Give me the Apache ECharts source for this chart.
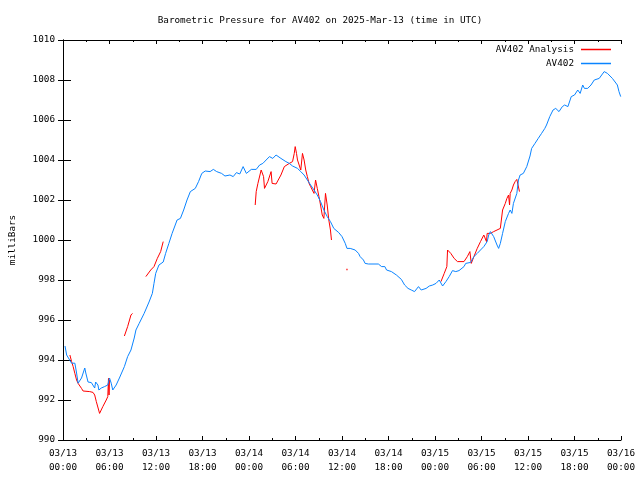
<!DOCTYPE html>
<html>
<head>
<meta charset="utf-8">
<script src="https://cdn.jsdelivr.net/npm/echarts@6/dist/echarts.min.js"></script>
<style>html,body{margin:0;padding:0;background:#fff}#c{width:640px;height:480px}</style>
</head>
<body>
<div id="c"></div>
<script>
// Hours since 2025-03-13 00:00 UTC
var xTickLabels = ['03/13\n00:00','03/13\n06:00','03/13\n12:00','03/13\n18:00','03/14\n00:00','03/14\n06:00','03/14\n12:00','03/14\n18:00','03/15\n00:00','03/15\n06:00','03/15\n12:00','03/15\n18:00','03/16\n00:00'];
var yTicks = [990,992,994,996,998,1000,1002,1004,1006,1008,1010];

var av402Hours = [0.26,0.47,1.11,1.53,1.75,1.95,2.39,2.81,2.94,3.23,3.66,3.87,4.09,4.21,4.51,4.63,4.94,5.36,5.78,6.0,6.22,6.42,6.86,7.28,7.92,8.34,8.77,9.19,9.41,9.83,10.47,11.1,11.53,11.74,11.96,12.38,12.6,12.93,13.24,13.66,14.08,14.72,15.15,15.57,16.0,16.43,17.07,17.49,17.91,18.35,18.98,19.4,19.83,20.46,20.9,21.54,21.96,22.38,22.81,23.24,23.45,23.66,24.3,24.93,25.37,25.79,26.21,26.64,27.07,27.49,28.12,28.76,29.2,29.62,30.26,30.68,31.11,31.53,31.95,32.39,32.81,33.23,33.66,34.09,34.51,34.94,35.58,36.0,36.42,36.64,37.06,37.28,37.7,37.92,38.13,38.34,38.55,38.77,38.98,39.41,40.69,41.11,41.53,41.75,42.38,43.02,43.66,44.08,44.52,44.94,45.36,45.58,45.87,46.22,46.43,46.85,47.27,47.71,48.13,48.55,48.98,49.41,49.83,50.26,50.68,51.1,51.32,51.74,51.96,52.6,53.02,53.45,53.87,54.3,54.73,54.93,55.15,55.57,56.0,56.21,56.43,56.72,57.07,57.49,57.7,57.92,58.12,58.56,58.77,58.98,59.4,59.84,60.26,60.47,60.9,61.32,61.75,62.17,62.39,62.81,63.23,63.58,64.0,64.43,64.73,65.15,65.58,66.0,66.42,66.73,67.06,67.28,67.7,68.13,68.55,69.19,69.83,70.25,70.89,71.53,71.74,71.96];
var av402Values = [994.7,994.25,993.84,993.84,993.35,992.84,993.1,993.6,993.35,992.9,992.87,992.87,992.6,992.9,992.75,992.5,992.6,992.67,992.75,993.1,992.84,992.5,992.75,993.1,993.67,994.17,994.5,995.1,995.5,995.83,996.33,996.9,997.33,997.83,998.33,998.75,998.83,998.9,999.33,999.83,1000.33,1001.0,1001.08,1001.5,1002.0,1002.42,1002.58,1002.92,1003.33,1003.45,1003.42,1003.53,1003.42,1003.33,1003.2,1003.25,1003.17,1003.37,1003.3,1003.67,1003.5,1003.33,1003.53,1003.53,1003.75,1003.83,1004.0,1004.17,1004.08,1004.25,1004.08,1003.92,1003.83,1003.7,1003.58,1003.42,1003.25,1003.0,1002.75,1002.5,1002.25,1001.92,1001.5,1001.17,1000.92,1000.58,1000.37,1000.17,999.83,999.58,999.58,999.67,999.5,999.58,999.33,999.17,999.25,999.0,998.83,998.8,998.8,998.67,998.67,998.5,998.42,998.25,998.03,997.75,997.58,997.5,997.42,997.5,997.67,997.5,997.42,997.58,997.7,997.75,997.83,998.0,997.7,997.92,998.17,998.47,998.42,998.47,998.5,998.67,998.83,998.88,999.17,999.33,999.5,999.67,999.92,1000.25,1000.42,1000.17,999.75,999.58,999.83,1000.33,1000.92,1001.33,1001.5,1001.33,1001.83,1002.33,1003.0,1003.25,1003.33,1003.67,1004.2,1004.58,1004.83,1005.08,1005.33,1005.58,1005.75,1006.17,1006.5,1006.58,1006.42,1006.67,1006.75,1006.67,1007.17,1007.25,1007.5,1007.33,1007.75,1007.58,1007.58,1007.75,1008.0,1008.08,1008.42,1008.33,1008.08,1007.75,1007.42,1007.17];

// Analysis: null values separate the segments
var analysisHours = [0.89,1.11,1.31,1.53,1.75,1.95,2.39,2.59,3.45,3.87,4.09,4.3,4.72,5.14,5.58,5.78,5.87,5.94,6.0,
  7.0,
  7.92,8.34,8.77,8.97,
  9.8,
  10.69,11.32,11.74,12.17,12.6,12.93,
  18.0,
  24.8,24.93,25.15,25.57,25.7,25.88,26.0,26.43,26.64,26.85,26.98,27.49,27.7,28.12,28.56,28.76,29.2,29.62,29.84,29.96,30.13,30.26,30.47,30.68,30.9,31.11,31.32,31.53,31.75,31.95,32.17,32.39,32.59,32.81,33.03,33.23,33.45,33.66,33.87,34.09,34.3,34.51,34.64,
  40.0,
  48.77,49.19,49.53,49.62,50.04,50.47,50.9,51.74,52.17,52.5,52.68,53.02,53.45,53.87,54.3,54.51,54.64,54.73,55.15,55.57,56.0,56.43,56.64,56.72,56.85,57.07,57.28,57.49,57.62,57.7,57.92,58.12,58.34,58.56,58.77,58.9];
var analysisValues = [994.25,993.92,993.67,993.33,993.0,992.83,992.58,992.45,992.42,992.38,992.25,991.92,991.33,991.67,992.0,992.17,993.08,992.25,993.0,
  null,
  995.2,995.67,996.25,996.33,
  null,
  998.17,998.5,998.67,999.08,999.42,999.92,
  null,
  1001.75,1002.42,1002.83,1003.5,1003.58,1003.17,1002.58,1002.92,1003.0,1003.42,1002.83,1002.8,1002.83,1003.25,1003.67,1003.75,1003.83,1003.92,1004.33,1004.67,1004.33,1004.0,1003.75,1003.5,1004.33,1004.0,1003.5,1003.17,1002.83,1002.67,1002.58,1002.33,1003.0,1002.58,1002.17,1001.75,1001.25,1001.08,1002.33,1001.75,1001.0,1000.5,1000.0,
  null,
  997.92,998.33,998.67,999.5,999.33,999.08,998.92,998.92,999.17,999.42,998.83,999.17,999.58,999.92,1000.25,1000.33,999.92,1000.33,1000.33,1000.42,1000.5,1000.58,1000.67,1001.5,1001.5,1001.83,1002.08,1002.25,1001.75,1002.33,1002.5,1002.75,1002.92,1003.03,1003.08,1002.42];
// Isolated single analysis sample
var analysisDotHours = [36.64];
var analysisDotValues = [998.53];

var FONT = 'DejaVu Sans Mono';
var RED = '#ff0000';
var BLUE = '#0a84ff';

function pairs(xs, ys) { return xs.map(function (x, i) { return [x, ys[i]]; }); }

var chart = echarts.init(document.getElementById('c'), null, { renderer: 'canvas' });
var axisLine = { show: true, lineStyle: { color: '#000', width: 1 } };
function legendOf(name, color, top) {
  return { data: [{ name: name, icon: 'rect', itemStyle: { color: color, borderWidth: 0 } }],
    right: 24, top: top, align: 'right', orient: 'vertical',
    itemWidth: 30, itemHeight: 1.5, itemGap: 4,
    textStyle: { fontFamily: FONT, fontSize: 9.3, color: '#000', padding: [0, 2, 0, 0] } };
}
chart.setOption({
  animation: false,
  backgroundColor: '#fff',
  textStyle: { fontFamily: FONT, color: '#000' },
  title: {
    text: 'Barometric Pressure for AV402 on 2025-Mar-13 (time in UTC)',
    left: 'center', top: 11,
    textStyle: { fontFamily: FONT, fontSize: 9.3, fontWeight: 'normal', color: '#000' }
  },
  legend: [ legendOf('AV402 Analysis', RED, 40), legendOf('AV402', BLUE, 54) ],
  grid: { left: 58, right: 19, top: 40, bottom: 40, containLabel: false },
  xAxis: [
    { type: 'value', position: 'bottom', min: 0, max: 72, interval: 6,
      axisLine: axisLine,
      axisTick: { show: true, inside: true, length: 4, lineStyle: { color: '#000' } },
      minorTick: { show: true, splitNumber: 2, length: 2, lineStyle: { color: '#000' } },
      splitLine: { show: false }, minorSplitLine: { show: false },
      axisLabel: { show: true, margin: 7, fontFamily: FONT, fontSize: 9.3, color: '#000', lineHeight: 14,
        formatter: function (v) { return xTickLabels[Math.round(v / 6)]; } } },
    { type: 'value', position: 'top', min: 0, max: 72, interval: 6,
      axisLine: axisLine,
      axisTick: { show: true, inside: true, length: 4, lineStyle: { color: '#000' } },
      minorTick: { show: true, splitNumber: 2, length: 2, lineStyle: { color: '#000' } },
      splitLine: { show: false }, axisLabel: { show: false } }
  ],
  yAxis: [
    { type: 'value', position: 'left', min: 990, max: 1010, interval: 2,
      name: 'milliBars', nameLocation: 'middle', nameGap: 46, nameRotate: 90,
      nameTextStyle: { fontFamily: FONT, fontSize: 9.3, color: '#000' },
      axisLine: axisLine,
      axisTick: { show: true, inside: true, length: 8, lineStyle: { color: '#000' } },
      splitLine: { show: false },
      axisLabel: { margin: 8, fontFamily: FONT, fontSize: 9.3, color: '#000',
        formatter: function (v) { var i = yTicks.indexOf(v); return i >= 0 ? String(yTicks[i]) : ''; } } },
    { type: 'value', position: 'right', min: 990, max: 1010, interval: 2,
      axisLine: axisLine,
      axisTick: { show: true, inside: true, length: 5, lineStyle: { color: '#000' } },
      splitLine: { show: false }, axisLabel: { show: false } }
  ],
  series: [
    { name: 'AV402 Analysis', type: 'line', xAxisIndex: 0, yAxisIndex: 0,
      data: pairs(analysisHours, analysisValues), connectNulls: false,
      showSymbol: false, symbol: 'none', color: RED,
      itemStyle: { color: RED },
      lineStyle: { color: RED, width: 1 }, z: 2 },
    { name: 'AV402 Analysis', type: 'scatter', xAxisIndex: 0, yAxisIndex: 0,
      data: pairs(analysisDotHours, analysisDotValues),
      symbol: 'rect', symbolSize: 1.5, itemStyle: { color: RED }, z: 2 },
    { name: 'AV402', type: 'line', xAxisIndex: 0, yAxisIndex: 0,
      data: pairs(av402Hours, av402Values),
      showSymbol: false, symbol: 'none', color: BLUE,
      itemStyle: { color: BLUE },
      lineStyle: { color: BLUE, width: 1 }, z: 3 }
  ]
});
</script>
</body>
</html>
